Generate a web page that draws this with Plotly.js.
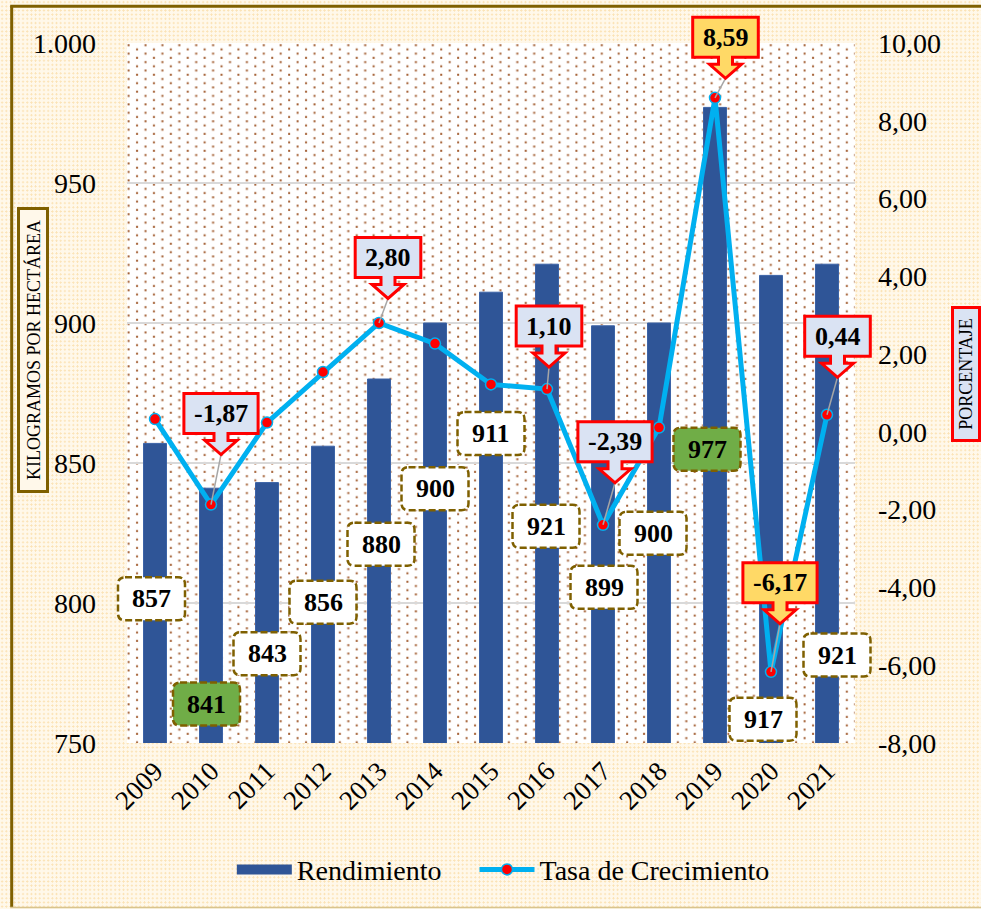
<!DOCTYPE html>
<html><head><meta charset="utf-8">
<script src="https://cdn.plot.ly/plotly-3.0.1.min.js"></script>
<style>
html,body{margin:0;padding:0;}
body{width:981px;height:909px;overflow:hidden;background-color:#FFF8EA;
background-image:radial-gradient(circle,#FBE3B6 0.9px,transparent 1.1px);background-size:4.2px 4.2px;}
#chart{width:981px;height:909px;}
</style></head><body><div id="chart"></div>
<script>
// ---- data ----
const years = ['2009','2010','2011','2012','2013','2014','2015','2016','2017','2018','2019','2020','2021'];
const rendimiento = [857,841,843,856,880,900,911,921,899,900,977,917,921];
const tasa = [0.33,-1.87,0.24,1.54,2.80,2.27,1.22,1.10,-2.39,0.11,8.59,-6.17,0.44];
const leftTicks = [750,800,850,900,950,1000];
const rightTicks = [-8,-6,-4,-2,0,2,4,6,8,10];

// ---- label placement (layout only) ----
const rendLabelY = [801.5,763.9,781.9,800.3,821,840.8,860.5,827.4,805.6,824.9,854.9,758.5,781.4];
const rendLabelDx = [-3.5,-4.5,0,0,2,0,0,-1,1,-6,-8,-8,10];
const tasaLabelIdx = [1,4,7,8,10,11,12];
const tasaLabelDx = [10,9,2,12,10.5,9,10.5];
const tasaLabelDy = [91,65.5,63,83,60.5,89,78.5];

const FONT = 'Liberation Serif, Times New Roman, serif';
const M = {l:127, r:126, t:43, b:166};
const PW = 981 - M.l - M.r, PH = 909 - M.t - M.b;
const LBL = 26;
const NBSP = '\u00A0';

const fmtDec = v => v.toFixed(2).replace('.', ',');
const fmtThou = v => v >= 1000 ? Math.floor(v/1000) + '.' + String(v%1000).padStart(3,'0') : String(v);

// dotted plot-area background
const svg = `<svg xmlns="http://www.w3.org/2000/svg" width="${PW}" height="${PH}"><defs><pattern id="p" width="16.9" height="8.45" patternUnits="userSpaceOnUse"><rect x="0.6" y="1.2" width="2" height="2" fill="#A35F33"/><rect x="9.05" y="5.4" width="2" height="2" fill="#A35F33"/></pattern></defs><rect width="100%" height="100%" fill="#ffffff"/><rect width="100%" height="100%" fill="url(#p)"/></svg>`;
const bgSrc = 'data:image/svg+xml;charset=utf-8,' + encodeURIComponent(svg);

const traces = [
  {type:'scatter', mode:'lines', x:[null], y:[null], name:'Rendimiento' + NBSP.repeat(4), legendgroup:'rend',
   line:{color:'#2F5597', width:14}, hoverinfo:'skip'},
  {type:'bar', x:years, y:rendimiento, name:'Rendimiento', yaxis:'y', legendgroup:'rend', showlegend:false,
   marker:{color:'#2F5597', line:{color:'#3A62A6', width:1}}, hoverinfo:'x+y'},
  {type:'scatter', mode:'lines+markers', x:years, y:tasa, name:'Tasa de Crecimiento', yaxis:'y2',
   line:{color:'#00B0F0', width:5},
   marker:{color:'#FF0000', size:11, line:{color:'#00B0F0', width:1.5}}, hoverinfo:'x+y'}
];

const annotations = [];

// rendimiento label text
years.forEach((yr, i) => {
  annotations.push({xref:'x', yref:'y', x:i, y:rendLabelY[i], xshift:rendLabelDx[i], yshift:0,
    xanchor:'center', yanchor:'middle',
    text:'<b>' + fmtThou(rendimiento[i]) + '</b>', showarrow:false, font:{family:FONT, size:LBL, color:'#000'}});
});
// tasa label text
tasaLabelIdx.forEach((idx, k) => {
  annotations.push({xref:'x', yref:'y2', x:idx, y:tasa[idx], xshift:tasaLabelDx[k], yshift:tasaLabelDy[k],
    xanchor:'center', yanchor:'middle',
    text:'<b>' + fmtDec(tasa[idx]) + '</b>', showarrow:false, font:{family:FONT, size:LBL, color:'#000'}});
});

// axis title boxes
annotations.push({xref:'paper', yref:'paper', x:(33-M.l)/PW, y:(M.t+PH-350)/PH, xanchor:'center', yanchor:'middle',
  text:'KILOGRAMOS POR HECTÁREA', textangle:-90, showarrow:false, width:278, height:24,
  font:{family:FONT, size:18, color:'#000'}, bgcolor:'#FFF8EA', bordercolor:'#7F6000', borderwidth:3, borderpad:1});
annotations.push({xref:'paper', yref:'paper', x:(966-M.l)/PW, y:(M.t+PH-374)/PH, xanchor:'center', yanchor:'middle',
  text:'PORCENTAJE', textangle:-90, showarrow:false, width:128, height:22,
  font:{family:FONT, size:18, color:'#000'}, bgcolor:'#DAE3F3', bordercolor:'#FF0000', borderwidth:3, borderpad:1});

// chart frame
const px = x => (x - M.l) / PW, py = y => (M.t + PH - y) / PH;
const frameShapes = [
  {type:'line', xref:'paper', yref:'paper', x0:px(11.7), x1:px(11.7), y0:py(6.3), y1:py(907), line:{color:'#7F6000', width:3}, layer:'below'},
  {type:'line', xref:'paper', yref:'paper', x0:px(10.2), x1:px(990), y0:py(6.3), y1:py(6.3), line:{color:'#7F6000', width:3}, layer:'below'},
  {type:'line', xref:'paper', yref:'paper', x0:px(10.2), x1:px(990), y0:py(907.5), y1:py(907.5), line:{color:'#D8C48E', width:1.5}, layer:'below'}
];

const layout = {
  width:981, height:909, margin:M,
  paper_bgcolor:'rgba(0,0,0,0)', plot_bgcolor:'rgba(0,0,0,0)',
  separators:',.',
  font:{family:FONT, color:'#000'},
  bargap:0.59,
  showlegend:true,
  legend:{orientation:'h', x:0.144, xanchor:'left', y:-0.181, yanchor:'middle',
    font:{family:FONT, size:28, color:'#000'}, bgcolor:'rgba(0,0,0,0)', itemwidth:55, traceorder:'normal'},
  xaxis:{type:'category', range:[-0.5, years.length - 0.5], autorange:false, tickangle:-45,
    tickfont:{family:FONT, size:27, color:'#000'},
    showgrid:false, zeroline:false, showline:false, ticks:'', ticklabelstandoff:6},
  yaxis:{range:[750,1000], autorange:false, tickvals:leftTicks, ticktext:leftTicks.map(fmtThou),
    tickfont:{family:FONT, size:28, color:'#000'}, showgrid:true, gridcolor:'#D9D9D9', gridwidth:1.5,
    zeroline:false, showline:false, ticks:'', ticklabelstandoff:30},
  yaxis2:{range:[-8,10], autorange:false, overlaying:'y', side:'right', tickvals:rightTicks, ticktext:rightTicks.map(fmtDec),
    tickfont:{family:FONT, size:28, color:'#000'}, showgrid:false, zeroline:false, showline:false, ticks:'', ticklabelstandoff:22},
  images:[{source:bgSrc, xref:'paper', yref:'paper', x:0, y:1, sizex:1, sizey:1, sizing:'stretch', xanchor:'left', yanchor:'top', layer:'below'}],
  shapes:frameShapes,
  annotations:annotations
};

// label box shapes: anchored through the library's axes, drawn unclipped (domain refs)
function roundRect(dx, hw, hh, r) {
  const x0 = dx-hw, x1 = dx+hw, y0 = -hh, y1 = hh;
  return `M${x0+r},${y1}L${x1-r},${y1}Q${x1},${y1} ${x1},${y1-r}L${x1},${y0+r}Q${x1},${y0} ${x1-r},${y0}L${x0+r},${y0}Q${x0},${y0} ${x0},${y0+r}L${x0},${y1-r}Q${x0},${y1} ${x0+r},${y1}Z`;
}
function emWidth(s) {
  let w = 0;
  for (const c of s) w += (c === ',' ? 0.25 : c === '-' ? 0.333 : 0.5);
  return w;
}
function calloutPath(dx, dy, hw, hh) {
  const b = dy - hh, t = dy + hh, l = dx - hw, r = dx + hw;
  const pts = [[l,t],[r,t],[r,b],[dx+7,b],[dx+7,b-7],[dx+16,b-7],[dx,b-21],[dx-16,b-7],[dx-7,b-7],[dx-7,b],[l,b]];
  return 'M' + pts.map(p => p[0].toFixed(1) + ',' + p[1].toFixed(1)).join('L') + 'Z';
}

Plotly.newPlot('chart', traces, layout, {displayModeBar:false, staticPlot:true}).then(gd => {
  const fl = gd._fullLayout;
  const xa = fl.xaxis, ya = fl.yaxis, ya2 = fl.yaxis2;
  const fx = i => xa.l2p(i) / xa._length;
  const fy = (ax, v) => 1 - ax.l2p(v) / ax._length;
  const shapes = frameShapes.slice();

  const rMax = Math.max(...rendimiento), rMin = Math.min(...rendimiento);
  years.forEach((yr, i) => {
    const v = rendimiento[i];
    const hl = (v === rMax || v === rMin);
    shapes.push({type:'path', xref:'x domain', yref:'y domain', xsizemode:'pixel', ysizemode:'pixel',
      xanchor:fx(i), yanchor:fy(ya, rendLabelY[i]), path:roundRect(rendLabelDx[i], 33.5, 21.5, 7),
      fillcolor: hl ? '#70AD47' : '#FFFFFF', line:{color:'#7F6000', width:2.5, dash:'7px,3px'}, layer:'above'});
  });

  const tMax = Math.max(...tasa), tMin = Math.min(...tasa);
  tasaLabelIdx.forEach((idx, k) => {
    const v = tasa[idx];
    const txt = fmtDec(v);
    const hw = emWidth(txt) * LBL / 2 + 10, hh = 20;
    const dx = tasaLabelDx[k], dy = tasaLabelDy[k];
    const hl = (v === tMax || v === tMin);
    const ax = fx(idx), ay = fy(ya2, v);
    shapes.push({type:'line', xref:'x domain', yref:'y domain', xsizemode:'pixel', ysizemode:'pixel',
      xanchor:ax, yanchor:ay, x0:0, y0:0, x1:dx, y1:dy-hh-21,
      line:{color:'#A6A6A6', width:1.5}, layer:'above'});
    shapes.push({type:'path', xref:'x domain', yref:'y domain', xsizemode:'pixel', ysizemode:'pixel',
      xanchor:ax, yanchor:ay, path:calloutPath(dx, dy, hw, hh),
      fillcolor: hl ? '#FFD966' : '#DAE3F3', line:{color:'#FF0000', width:3}, layer:'above'});
  });

  return Plotly.relayout(gd, {shapes:shapes});
});
</script></body></html>
